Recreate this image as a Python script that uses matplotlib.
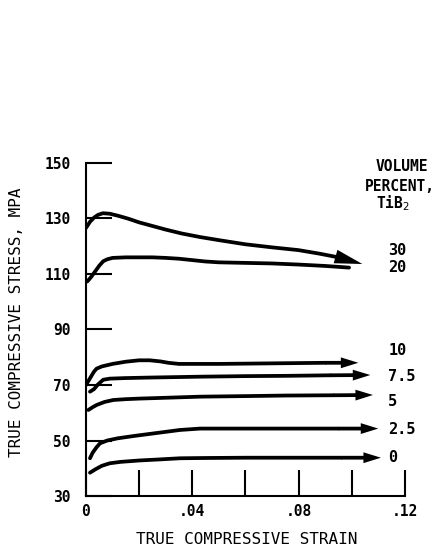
"""True compressive stress-strain curves for TiB2-reinforced composites."""

import matplotlib
matplotlib.use("Agg")
import matplotlib.pyplot as plt

# Volume percent TiB2 for each curve, and the curves themselves.
volume_labels = ["30", "20", "10", "7.5", "5", "2.5", "0"]

strain_30 = [0.0, 0.0015, 0.003, 0.0045, 0.0064, 0.009, 0.012, 0.016, 0.02, 0.025,
             0.03, 0.036, 0.043, 0.05, 0.06, 0.07, 0.08, 0.088, 0.095, 0.104]
stress_30 = [126.6, 128.8, 130.3, 131.3, 131.9, 131.7, 131.0, 129.9, 128.6, 127.3,
             126.0, 124.6, 123.3, 122.2, 120.7, 119.6, 118.6, 117.3, 116.0, 113.6]

strain_20 = [0.0005, 0.002, 0.0035, 0.005, 0.0065, 0.008, 0.01, 0.015, 0.02, 0.025,
             0.03, 0.035, 0.04, 0.045, 0.05, 0.06, 0.07, 0.08, 0.09, 0.099]
stress_20 = [107.3, 109.0, 111.0, 113.0, 114.6, 115.3, 115.8, 116.0, 116.0, 116.0,
             115.8, 115.5, 115.0, 114.5, 114.2, 114.0, 113.8, 113.4, 112.9, 112.3]

strain_10 = [0.0, 0.001, 0.002, 0.003, 0.004, 0.006, 0.01, 0.015, 0.02, 0.024,
             0.028, 0.031, 0.035, 0.04, 0.05, 0.06, 0.07, 0.08, 0.09, 0.1025]
stress_10 = [70.0, 71.6, 73.2, 74.8, 75.9, 76.7, 77.6, 78.4, 78.9, 78.9,
             78.5, 78.0, 77.6, 77.6, 77.6, 77.7, 77.8, 77.9, 78.0, 78.0]

strain_75 = [0.0015, 0.003, 0.0045, 0.0065, 0.009, 0.015, 0.025, 0.043, 0.06,
             0.075, 0.092, 0.107]
stress_75 = [67.6, 68.5, 70.2, 71.9, 72.3, 72.5, 72.7, 73.0, 73.2, 73.3, 73.5, 73.6]

strain_5 = [0.0009, 0.0025, 0.004, 0.007, 0.0103, 0.015, 0.02, 0.03, 0.043, 0.06,
            0.075, 0.093, 0.108]
stress_5 = [61.0, 62.0, 62.8, 63.9, 64.6, 64.9, 65.1, 65.4, 65.8, 66.0, 66.2, 66.3, 66.4]

strain_25 = [0.0015, 0.0025, 0.004, 0.0053, 0.008, 0.012, 0.0178, 0.025, 0.0354,
             0.043, 0.06, 0.075, 0.095, 0.11]
stress_25 = [43.6, 45.6, 47.6, 49.0, 50.0, 50.8, 51.6, 52.5, 53.8, 54.3, 54.3,
             54.3, 54.3, 54.3]

strain_0 = [0.0015, 0.0035, 0.006, 0.009, 0.013, 0.02, 0.028, 0.0354, 0.045, 0.06,
            0.08, 0.096, 0.111]
stress_0 = [38.4, 39.6, 40.9, 41.8, 42.3, 42.8, 43.2, 43.6, 43.7, 43.8, 43.8,
            43.8, 43.8]

curves = [
    (strain_30, stress_30),
    (strain_20, stress_20),
    (strain_10, stress_10),
    (strain_75, stress_75),
    (strain_5, stress_5),
    (strain_25, stress_25),
    (strain_0, stress_0),
]

# stress level at which each volume label sits
label_stress = [118.6, 112.2, 82.3, 72.9, 63.9, 53.8, 43.7]

x_ticks = [0, 0.04, 0.08, 0.12]
x_tick_labels = ["0", ".04", ".08", ".12"]
x_minor = [0.02, 0.06, 0.10]
y_ticks = [30, 50, 70, 90, 110, 130, 150]

FONT = "DejaVu Sans Mono"


def create_plot() -> None:
    fig = plt.figure(figsize=(4.41, 5.51), dpi=100)
    ax = fig.add_axes([0.195, 0.0998, 0.723, 0.6044])
    ax.set_xlim(0, 0.12)
    ax.set_ylim(30, 150)

    lw = 2.7
    # arrowhead size per curve: the 20% curve runs into the 30% head
    heads = ["big", None, "small", "small", "small", "small", "small"]
    for (xs, ys), head in zip(curves, heads):
        if head is None:
            ax.plot(xs, ys, color="black", lw=lw,
                    solid_capstyle="round", solid_joinstyle="round")
            continue
        ax.plot(xs[:-1], ys[:-1], color="black", lw=lw,
                solid_capstyle="round", solid_joinstyle="round")
        # filled "simple" arrow so the tip lands on the last point
        if head == "big":
            scale = 20
            style = f"simple,head_length=1.0,head_width=0.5,tail_width={lw / scale}"
        else:
            scale = 12
            style = f"simple,head_length=1.05,head_width=0.65,tail_width={lw / scale}"
        ax.annotate("", xy=(xs[-1], ys[-1]), xytext=(xs[-2], ys[-2]),
                    arrowprops=dict(arrowstyle=style, mutation_scale=scale,
                                    fc="black", ec="none", lw=0,
                                    shrinkA=0, shrinkB=0))

    # axes frame: left and bottom only, long inward ticks
    for side in ("top", "right"):
        ax.spines[side].set_visible(False)
    for side in ("left", "bottom"):
        ax.spines[side].set_linewidth(1.5)

    ax.set_xticks(x_ticks)
    ax.set_xticklabels(x_tick_labels)
    ax.set_xticks(x_minor, minor=True)
    ax.set_yticks(y_ticks)
    ax.tick_params(axis="both", which="both", direction="in", width=1.5,
                   length=19, labelsize=10.5)
    ax.tick_params(axis="x", pad=6)
    ax.tick_params(axis="y", pad=11)
    for lab in ax.get_xticklabels() + ax.get_yticklabels():
        lab.set_family(FONT)
        lab.set_fontweight("bold")

    # volume percent labels
    txt = dict(family=FONT, fontweight="bold", clip_on=False, va="center")
    for text, y in zip(volume_labels, label_stress):
        ax.text(0.1138, y, text, fontsize=11, ha="left", **txt)
    ax.text(0.119, 148.6, "VOLUME", fontsize=10.5, ha="center", **txt)
    ax.text(0.118, 141.4, "PERCENT,", fontsize=10.5, ha="center", **txt)
    ax.text(0.1155, 135.6, "TiB$_2$", fontsize=10.5, ha="center", **txt)

    fig.text(247 / 441, 11 / 551, "TRUE COMPRESSIVE STRAIN", fontsize=11.5,
             family=FONT, ha="center", va="center")
    fig.text(17 / 441, 1 - 322 / 551, "TRUE COMPRESSIVE STRESS, MPA",
             fontsize=11.5, family=FONT, ha="center", va="center", rotation=90)

    fig.savefig("out.png", dpi=100)


if __name__ == "__main__":
    create_plot()
